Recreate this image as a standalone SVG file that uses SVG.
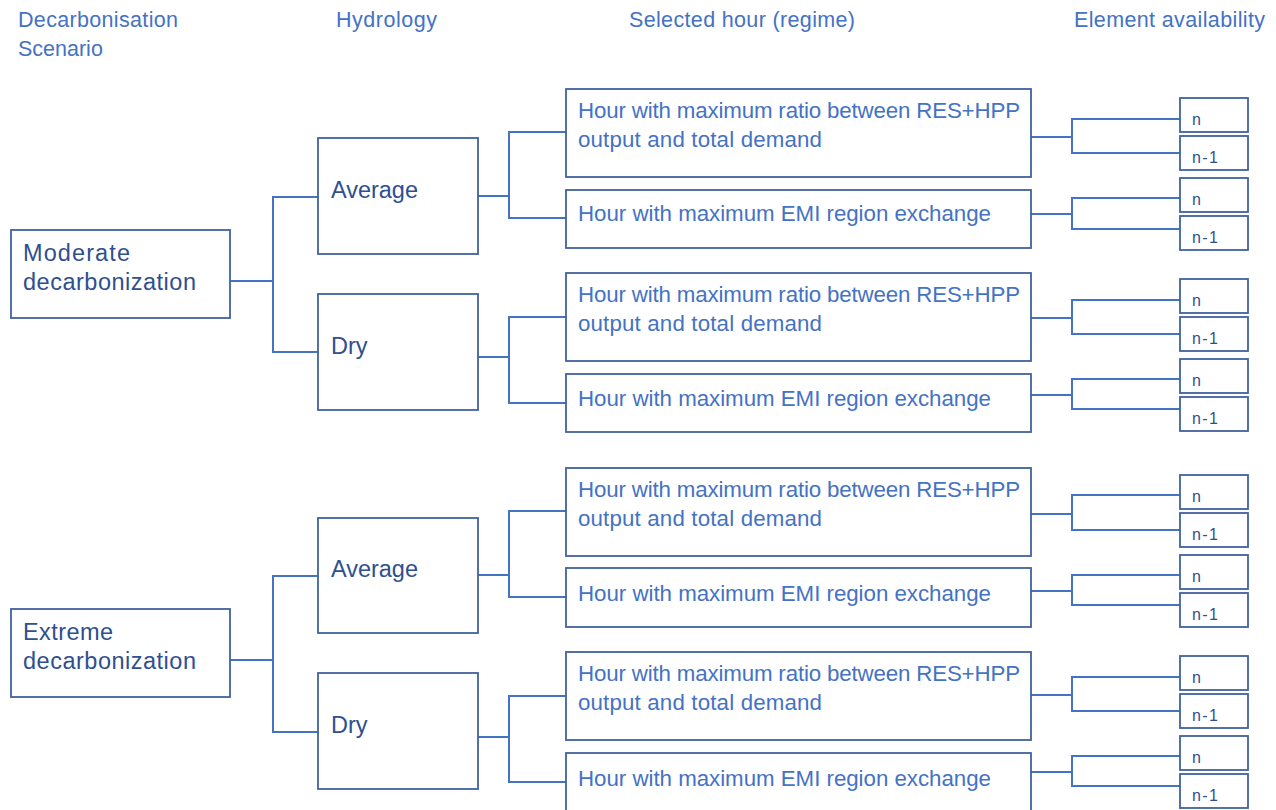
<svg xmlns="http://www.w3.org/2000/svg" width="1276" height="810" viewBox="0 0 1276 810">
<style>
.bx{fill:#fff;stroke:#41629E;stroke-width:1.8}
.cn{fill:none;stroke:#4472C4;stroke-width:2}
.hd{font-family:"Liberation Sans",Arial,sans-serif;font-size:21.5px;fill:#4472C4}
.nd{font-family:"Liberation Sans",Arial,sans-serif;font-size:23.5px;fill:#2F4F8F}
.hr{font-family:"Liberation Sans",Arial,sans-serif;font-size:22.3px;fill:#4472C4}
.av{font-family:"Liberation Sans",Arial,sans-serif;font-size:16px;fill:#2F4F8F}
</style>
<rect width="1276" height="810" fill="#fff"/>
<g id="headers">
<text class="hd" x="18" y="27" textLength="160">Decarbonisation</text>
<text class="hd" x="18" y="56">Scenario</text>
<text class="hd" x="336" y="27" textLength="101">Hydrology</text>
<text class="hd" x="629" y="27" textLength="226">Selected hour (regime)</text>
<text class="hd" x="1074" y="27" textLength="191">Element availability</text>
</g>
<g id="connectors">
<path class="cn" d="M230,281H273M318,197H273V352H318"/>
<path class="cn" d="M478,196H509M566,132H509V218H566"/>
<path class="cn" d="M478,357H509M566,317H509V403H566"/>
<path class="cn" d="M1031,137H1072M1180,119H1072V153H1180"/>
<path class="cn" d="M1031,214H1072M1180,198H1072V229H1180"/>
<path class="cn" d="M1031,318H1072M1180,300H1072V334H1180"/>
<path class="cn" d="M1031,395H1072M1180,379H1072V409H1180"/>
<path class="cn" d="M230,660H273M318,576H273V732H318"/>
<path class="cn" d="M478,575H509M566,511H509V597H566"/>
<path class="cn" d="M478,737H509M566,696H509V782H566"/>
<path class="cn" d="M1031,514H1072M1180,495H1072V530H1180"/>
<path class="cn" d="M1031,591H1072M1180,575H1072V605H1180"/>
<path class="cn" d="M1031,695H1072M1180,677H1072V711H1180"/>
<path class="cn" d="M1031,772H1072M1180,756H1072V786H1180"/>
</g>
<g id="moderate"><rect class="bx" x="11" y="230" width="219" height="88"/><text class="nd" x="23" y="261" textLength="107">Moderate</text><text class="nd" x="23" y="290" textLength="173">decarbonization</text></g>
<g id="extreme"><rect class="bx" x="11" y="609" width="219" height="88"/><text class="nd" x="23" y="640" textLength="90">Extreme</text><text class="nd" x="23" y="669" textLength="173">decarbonization</text></g>
<g id="avg1"><rect class="bx" x="318" y="138" width="160" height="116"/><text class="nd" x="331" y="198" textLength="87">Average</text></g>
<g id="dry1"><rect class="bx" x="318" y="294" width="160" height="116"/><text class="nd" x="331" y="354">Dry</text></g>
<g id="avg2"><rect class="bx" x="318" y="518" width="160" height="115"/><text class="nd" x="331" y="577" textLength="87">Average</text></g>
<g id="dry2"><rect class="bx" x="318" y="673" width="160" height="116"/><text class="nd" x="331" y="733">Dry</text></g>
<g id="h1"><rect class="bx" x="566" y="89" width="465" height="88"/><text class="hr" x="578" y="118" textLength="442">Hour with maximum ratio between RES+HPP</text><text class="hr" x="578" y="147" textLength="244">output and total demand</text></g>
<g id="h2"><rect class="bx" x="566" y="190" width="465" height="58"/><text class="hr" x="578" y="221" textLength="413">Hour with maximum EMI region exchange</text></g>
<g id="h3"><rect class="bx" x="566" y="273" width="465" height="88"/><text class="hr" x="578" y="302" textLength="442">Hour with maximum ratio between RES+HPP</text><text class="hr" x="578" y="331" textLength="244">output and total demand</text></g>
<g id="h4"><rect class="bx" x="566" y="374" width="465" height="58"/><text class="hr" x="578" y="406" textLength="413">Hour with maximum EMI region exchange</text></g>
<g id="h5"><rect class="bx" x="566" y="468" width="465" height="88"/><text class="hr" x="578" y="497" textLength="442">Hour with maximum ratio between RES+HPP</text><text class="hr" x="578" y="526" textLength="244">output and total demand</text></g>
<g id="h6"><rect class="bx" x="566" y="568" width="465" height="59"/><text class="hr" x="578" y="601" textLength="413">Hour with maximum EMI region exchange</text></g>
<g id="h7"><rect class="bx" x="566" y="652" width="465" height="88"/><text class="hr" x="578" y="681" textLength="442">Hour with maximum ratio between RES+HPP</text><text class="hr" x="578" y="710" textLength="244">output and total demand</text></g>
<g id="h8"><rect class="bx" x="566" y="753" width="465" height="70"/><text class="hr" x="578" y="786" textLength="413">Hour with maximum EMI region exchange</text></g>
<g id="a1"><rect class="bx" x="1180" y="98" width="68" height="34"/><text class="av" x="1192" y="125">n</text></g>
<g id="a2"><rect class="bx" x="1180" y="136" width="68" height="34"/><text class="av" x="1192" y="163" textLength="26">n-1</text></g>
<g id="a3"><rect class="bx" x="1180" y="178" width="68" height="34"/><text class="av" x="1192" y="205">n</text></g>
<g id="a4"><rect class="bx" x="1180" y="216" width="68" height="34"/><text class="av" x="1192" y="243" textLength="26">n-1</text></g>
<g id="a5"><rect class="bx" x="1180" y="279" width="68" height="34"/><text class="av" x="1192" y="306">n</text></g>
<g id="a6"><rect class="bx" x="1180" y="317" width="68" height="34"/><text class="av" x="1192" y="344" textLength="26">n-1</text></g>
<g id="a7"><rect class="bx" x="1180" y="359" width="68" height="34"/><text class="av" x="1192" y="386">n</text></g>
<g id="a8"><rect class="bx" x="1180" y="397" width="68" height="34"/><text class="av" x="1192" y="424" textLength="26">n-1</text></g>
<g id="a9"><rect class="bx" x="1180" y="475" width="68" height="34"/><text class="av" x="1192" y="502">n</text></g>
<g id="a10"><rect class="bx" x="1180" y="513" width="68" height="34"/><text class="av" x="1192" y="540" textLength="26">n-1</text></g>
<g id="a11"><rect class="bx" x="1180" y="555" width="68" height="34"/><text class="av" x="1192" y="582">n</text></g>
<g id="a12"><rect class="bx" x="1180" y="593" width="68" height="34"/><text class="av" x="1192" y="620" textLength="26">n-1</text></g>
<g id="a13"><rect class="bx" x="1180" y="656" width="68" height="34"/><text class="av" x="1192" y="683">n</text></g>
<g id="a14"><rect class="bx" x="1180" y="694" width="68" height="34"/><text class="av" x="1192" y="721" textLength="26">n-1</text></g>
<g id="a15"><rect class="bx" x="1180" y="736" width="68" height="34"/><text class="av" x="1192" y="763">n</text></g>
<g id="a16"><rect class="bx" x="1180" y="774" width="68" height="34"/><text class="av" x="1192" y="801" textLength="26">n-1</text></g>
</svg>
